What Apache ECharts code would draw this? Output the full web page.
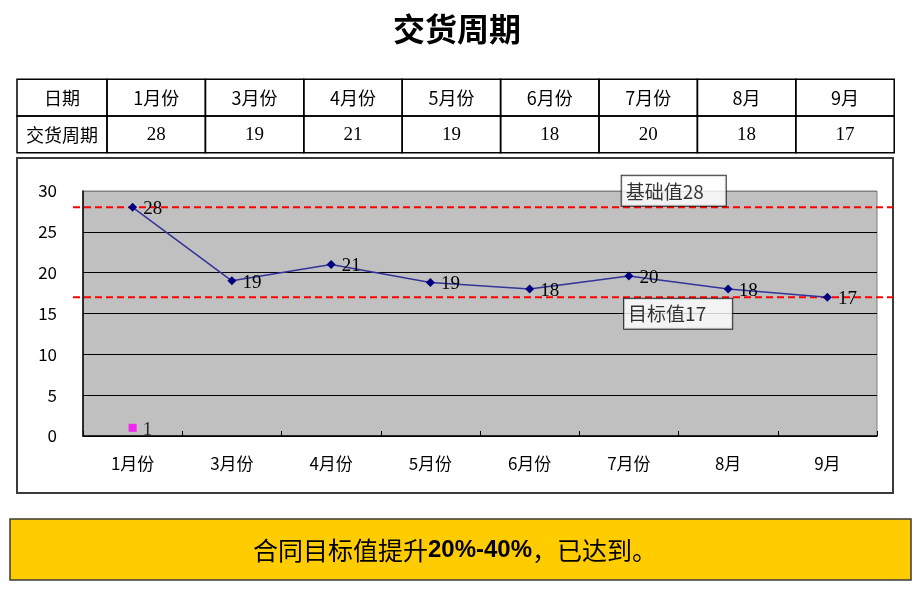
<!DOCTYPE html>
<html>
<head>
<meta charset="utf-8">
<script src="https://cdn.jsdelivr.net/npm/echarts@6/dist/echarts.min.js"></script>
<style>
html,body{margin:0;padding:0;background:#fff;}
#chart{width:922px;height:595px;}
</style>
</head>
<body>
<div id="chart"></div>
<script>
// ---- data ----
const titleText = '交货周期';
const categories = ['1月份', '3月份', '4月份', '5月份', '6月份', '7月份', '8月', '9月'];
const tableRowHeaders = ['日期', '交货周期'];
const tableValues = [28, 19, 21, 19, 18, 20, 18, 17];
const plottedValues = [28, 19, 21, 18.8, 18, 19.6, 18, 17];
const markerValues = [1, null, null, null, null, null, null, null];
const baseValue = 28;
const targetValue = 17;
const baseLabel = '基础值28';
const targetLabel = '目标值17';
const notePre = '合同目标值提升';
const noteMid = '20%-40%';
const notePost = '，已达到。';

// ---- layout ----
const FONT = '"Noto Sans CJK SC", sans-serif';
const NUMFONT = '"Liberation Serif", "Noto Sans CJK SC", serif';
const chart = echarts.init(document.getElementById('chart'));

const tLeft = 17, firstW = 90, colW = 98.4, tTop = 79.3, rowH = 36.7;
const graphics = [];
const rows = [
  [tableRowHeaders[0]].concat(categories),
  [tableRowHeaders[1]].concat(tableValues.map(String))
];
rows.forEach((row, r) => {
  row.forEach((txt, c) => {
    const x = c === 0 ? tLeft : tLeft + firstW + (c - 1) * colW;
    const w = c === 0 ? firstW : colW;
    const y = tTop + r * rowH;
    graphics.push({
      type: 'rect', shape: {x: x, y: y, width: w, height: rowH},
      style: {fill: null, stroke: '#000', lineWidth: 1.5}, silent: true
    });
    graphics.push({
      type: 'text', x: x + w / 2, y: y + rowH / 2 + 1,
      style: {text: txt, textAlign: 'center', textVerticalAlign: 'middle',
        fontSize: (r === 1 && c > 0) ? 19 : 18,
        fontFamily: (r === 1 && c > 0) ? NUMFONT : FONT, fill: '#000'},
      silent: true
    });
  });
});
graphics.push({
  type: 'rect', shape: {x: 17, y: 158, width: 876, height: 335},
  style: {fill: null, stroke: '#3a3a3a', lineWidth: 2}, silent: true
});
graphics.push({
  type: 'rect', shape: {x: 10, y: 519, width: 901, height: 61},
  style: {fill: '#FFCC00', stroke: '#3a3a3a', lineWidth: 1.5}, silent: true
});
graphics.push({
  type: 'text', x: 455, y: 550,
  style: {
    text: '{a|' + notePre + '}{b|' + noteMid + '}{a|' + notePost + '}',
    textAlign: 'center', textVerticalAlign: 'middle', fill: '#000',
    rich: {
      a: {fontSize: 25, fontFamily: FONT, fill: '#000', color: '#000'},
      b: {fontSize: 24, fontFamily: '"Liberation Sans Narrow", "Liberation Sans", sans-serif', fontWeight: 'bold', fill: '#000', color: '#000'}
    }
  },
  silent: true
});

const refLine = (v) => ({
  type: 'line', xAxisIndex: 1, yAxisIndex: 1, z: 1,
  data: [[0, v], [1, v]], symbol: 'none', silent: true,
  lineStyle: {color: '#FF0000', width: 2, type: [7, 4]}
});
const refBox = (x, v, txt, pos, padR) => ({
  type: 'scatter', xAxisIndex: 1, yAxisIndex: 1, z: 10,
  data: [[x, v]], symbolSize: 1, itemStyle: {color: 'rgba(0,0,0,0)'}, silent: true,
  label: {show: true, position: pos, distance: 1, formatter: txt,
    fontSize: 19, fontFamily: FONT, color: '#000', lineHeight: 21,
    backgroundColor: '#fff', borderColor: '#000', borderWidth: 1,
    padding: [5, padR, 4, 4]}
});

const option = {
  backgroundColor: '#fff',
  animation: false,
  title: {
    text: titleText, left: 388, top: 8,
    textStyle: {fontSize: 32, fontWeight: 'bold', fontFamily: FONT, color: '#000'}
  },
  graphic: graphics,
  grid: [
    {left: 83, right: 45, top: 191, bottom: 159, show: true,
      backgroundColor: '#C0C0C0', borderColor: '#808080', borderWidth: 1},
    {left: 73, right: 29, top: 191, bottom: 159}
  ],
  xAxis: [
    {type: 'category', gridIndex: 0, data: categories, boundaryGap: true,
      axisLine: {lineStyle: {color: '#000', width: 1.5}},
      axisTick: {show: true, inside: true, length: 5, lineStyle: {color: '#000'}},
      axisLabel: {fontSize: 17, fontFamily: FONT, color: '#000', margin: 19},
      splitLine: {show: false}},
    {type: 'value', gridIndex: 1, min: 0, max: 1, show: false}
  ],
  yAxis: [
    {type: 'value', gridIndex: 0, min: 0, max: 30, interval: 5,
      axisLine: {show: true, lineStyle: {color: '#000', width: 1.5}},
      axisTick: {show: false},
      axisLabel: {fontSize: 17, fontFamily: FONT, color: '#000', margin: 26},
      splitLine: {show: true, lineStyle: {color: ['#000', '#000', '#000', '#000', '#000', '#000', '#808080'], width: 1}}},
    {type: 'value', gridIndex: 1, min: 0, max: 30, interval: 5, show: false}
  ],
  series: [
    refLine(baseValue),
    refLine(targetValue),
    {
      type: 'line', xAxisIndex: 0, yAxisIndex: 0, z: 3,
      data: plottedValues, symbol: 'diamond', symbolSize: 9,
      itemStyle: {color: '#000080'},
      lineStyle: {color: '#333399', width: 1.5},
      label: {show: true, position: 'right', distance: 6, offset: [0, 2],
        formatter: p => String(Math.round(p.value)),
        fontSize: 19, fontFamily: NUMFONT, color: '#000'}
    },
    {
      type: 'scatter', xAxisIndex: 0, yAxisIndex: 0, z: 3,
      data: markerValues, symbol: 'rect', symbolSize: 8,
      itemStyle: {color: '#FF00FF'},
      label: {show: true, position: 'right', distance: 6, offset: [0, 2],
        fontSize: 19, fontFamily: NUMFONT, color: '#000'}
    },
    refBox(0.7326, baseValue, baseLabel, 'top', 22),
    refBox(0.738, targetValue, targetLabel, 'bottom', 26)
  ]
};
chart.setOption(option);
</script>
</body>
</html>
